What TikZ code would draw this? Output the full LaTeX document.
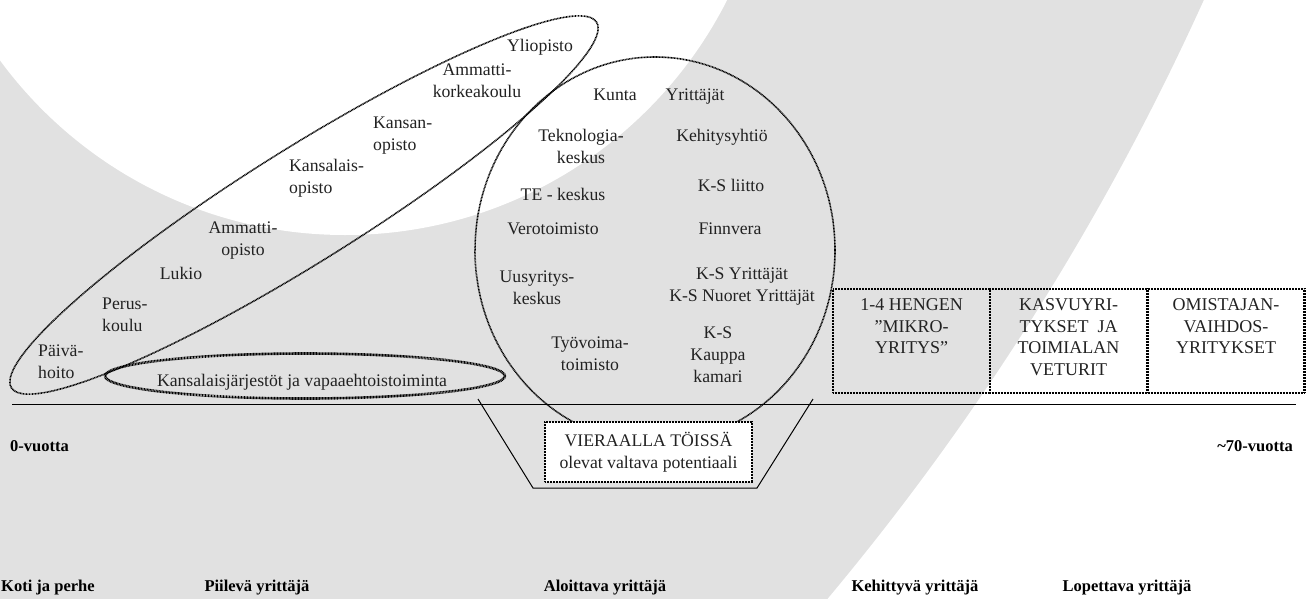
\documentclass[tikz,border=0pt]{standalone}
\usepackage{fontspec}
\setmainfont{Liberation Serif}
\usetikzlibrary{shapes.geometric}
\definecolor{bggray}{HTML}{E1E1E1}
\definecolor{txt}{HTML}{222222}
\begin{document}
\begin{tikzpicture}[x=1pt,y=-1pt,
  t/.style={font=\fontsize{17.7}{22}\selectfont, align=center, inner sep=0pt, text=txt},
  tl/.style={t, align=left, anchor=west},
  bt/.style={font=\fontsize{18}{21.5}\selectfont, align=center, inner sep=0pt, text=txt, anchor=north},
  stage/.style={font=\fontsize{16.5}{19}\selectfont\bfseries, inner sep=0pt},
  dotl/.style={line width=1.6pt, dash pattern=on 0.9pt off 0.6pt},
  dotthick/.style={line width=2.6pt, dash pattern=on 0.9pt off 0.6pt},
  boxd/.style={draw, dotthick, rectangle, minimum width=157, minimum height=104, inner sep=0pt},
  thinl/.style={line width=1pt}
]
\useasboundingbox (0,0) rectangle (1311,598);
% background arc band
\begin{scope}
  \clip (0,0) rectangle (1311,598);
  \fill[bggray] (-1177,-1076) circle[radius=2612];
  \fill[white] (345,-193) circle[radius=428];
\end{scope}

% enclosing ellipses
\node[draw, dotl, ellipse, minimum width=690, minimum height=114, rotate=32, inner sep=0pt] (edu) at (304,205) {};
\node[draw, dotl, ellipse, minimum width=360, minimum height=386, inner sep=0pt] (org) at (655,250) {};
\node[draw, dotthick, ellipse, minimum width=400, minimum height=45, inner sep=0pt] (jarj) at (305,376) {};

% time axis
\coordinate (ax0) at (12,404);
\coordinate (ax1) at (1296,404);
\draw[thinl] (ax0) -- (ax1);

% trapezoid
\coordinate (tr1) at (478,399);
\coordinate (tr2) at (533,488);
\coordinate (tr3) at (757,488);
\coordinate (tr4) at (813,399);
\draw[thinl] (tr1) -- (tr2) -- (tr3) -- (tr4);

% potential box
\node[draw, dotthick, fill=white, minimum width=207, minimum height=60, t] (vier) at (648.5,452) {VIERAALLA TÖISSÄ\\olevat valtava potentiaali};

% company boxes
\node[boxd] (b1) at (911.5,341) {};
\node[boxd] (b2) at (1068.5,341) {};
\node[boxd] (b3) at (1226,341) {};
\node[bt] (b1t) at ([yshift=-11pt]b1.north) {1-4 HENGEN\\”MIKRO-\\YRITYS”};
\node[bt] (b2t) at ([yshift=-11pt]b2.north) {KASVUYRI-\\TYKSET\ \ JA\\TOIMIALAN\\VETURIT};
\node[bt] (b3t) at ([yshift=-11pt]b3.north) {OMISTAJAN-\\VAIHDOS-\\YRITYKSET};

% education labels
\node[t] (yo) at (540,47) {Yliopisto};
\node[t] (amk) at (477,81) {Ammatti-\\korkeakoulu};
\node[tl] (kop) at (373,136) {Kansan-\\opisto};
\node[tl] (kalop) at (289,178) {Kansalais-\\opisto};
\node[t] (amop) at (243,241) {Ammatti-\\opisto};
\node[t] (luk) at (181,273) {Lukio};
\node[tl] (per) at (102,315) {Perus-\\koulu};
\node[tl] (pai) at (38,362) {Päivä-\\hoito};
\node[t] (jarjt) at (302,382) {Kansalaisjärjestöt ja vapaaehtoistoiminta};

% organisation labels
\node[t] (kun) at (615,95) {Kunta};
\node[t] (yri) at (695,97) {Yrittäjät};
\node[t] (tek) at (581,146) {Teknologia-\\keskus};
\node[t] (keh) at (722,137) {Kehitysyhtiö};
\node[t] (te) at (563,194) {TE - keskus};
\node[t] (ksl) at (731,185) {K-S liitto};
\node[t] (ver) at (553,229) {Verotoimisto};
\node[t] (fin) at (730,229) {Finnvera};
\node[t] (uus) at (537,288) {Uusyritys-\\keskus};
\node[t] (ksy) at (742,287) {K-S Yrittäjät\\K-S Nuoret Yrittäjät};
\node[t] (tyo) at (590,354) {Työvoima-\\toimisto};
\node[t] (ksk) at (718,355) {K-S\\Kauppa\\kamari};

% axis end labels
\node[stage, anchor=base west] (v0) at (10,451) {0-vuotta};
\node[stage, anchor=base east] (v70) at (1293,451) {\char"007E 70-vuotta};

% stage labels
\node[stage, anchor=base west] (s1) at (1,591) {Koti ja perhe};
\node[stage, anchor=base] (s2) at (257,591) {Piilevä yrittäjä};
\node[stage, anchor=base] (s3) at (605,591) {Aloittava yrittäjä};
\node[stage, anchor=base] (s4) at (915,591) {Kehittyvä yrittäjä};
\node[stage, anchor=base] (s5) at (1127,591) {Lopettava yrittäjä};
\end{tikzpicture}
\end{document}
